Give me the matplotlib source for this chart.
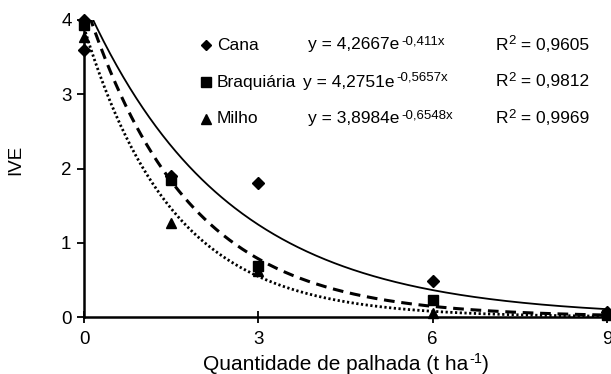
import numpy as np
import matplotlib
matplotlib.use("Agg")
import matplotlib.pyplot as plt

plt.rcParams['font.family'] = ['Liberation Sans', 'DejaVu Sans']

# Observed data
cana_x = [0, 0, 1.5, 3, 6, 9]
cana_y = [4.0, 3.6, 1.9, 1.81, 0.48, 0.07]
braq_x = [0, 1.5, 3, 6, 9]
braq_y = [3.93, 1.85, 0.69, 0.23, 0.03]
milho_x = [0, 1.5, 3, 6, 9]
milho_y = [3.77, 1.27, 0.62, 0.05, 0.04]

# Fitted models y = a*exp(b*x)
labels = ['Cana', 'Braquiária', 'Milho']
coef_a = [4.2667, 4.2751, 3.8984]
coef_b = [-0.411, -0.5657, -0.6548]
eq_base = ['y = 4,2667e', 'y = 4,2751e', 'y = 3,8984e']
eq_exp = ['-0,411x', '-0,5657x', '-0,6548x']
r2_texts = ['0,9605', '0,9812', '0,9969']

W, H = 611, 374
fig = plt.figure(figsize=(W/100, H/100), dpi=100)
ax = fig.add_axes([84/W, 1-317/H, (607-84)/W, (317-20)/H])

xs = np.linspace(0, 9, 400)
styles = [dict(ls='-', lw=1.3), dict(ls=(0, (3.5, 2.2)), lw=2.2), dict(ls=(0, (0.8, 0.9)), lw=2.0)]
for a, b, st in zip(coef_a, coef_b, styles):
    ax.plot(xs, a*np.exp(b*xs), color='black', **st)

ax.plot(cana_x, cana_y, 'D', color='black', ms=6, clip_on=False, zorder=5)
ax.plot(braq_x, braq_y, 's', color='black', ms=7.5, clip_on=False, zorder=5)
ax.plot(milho_x, milho_y, '^', color='black', ms=7, clip_on=False, zorder=5)

ax.set_xlim(0, 9)
ax.set_ylim(0, 4)
ax.set_xticks([0, 3, 6, 9])
ax.set_yticks([0, 1, 2, 3, 4])
for s in ['top', 'right']:
    ax.spines[s].set_visible(False)
for s in ['left', 'bottom']:
    ax.spines[s].set_linewidth(1.8)
ax.tick_params(axis='x', direction='inout', length=8, width=1.3, labelsize=13.5, pad=6)
ax.tick_params(axis='y', direction='out', length=5, width=1.3, labelsize=13.5, pad=4)
ax.set_ylabel('IVE', fontsize=13.5)
ax.yaxis.set_label_coords(-(84-16)/(607-84), (317-160)/(317-20))
ax.yaxis.label.set_va('center')

renderer = fig.canvas.get_renderer()

def px(x, y):
    return x/W, 1 - y/H

# X axis label built from pieces (superscript -1)
xl_y = 364
t1 = fig.text(*px(203, xl_y), 'Quantidade de palhada (t ha', fontsize=15, va='center', ha='left')
bb = t1.get_window_extent(renderer)
t2 = fig.text(bb.x1/W + 1/W, 1 - (xl_y - 5)/H, '-1', fontsize=10.5, va='center', ha='left')
bb = t2.get_window_extent(renderer)
fig.text(bb.x1/W, 1 - xl_y/H, ')', fontsize=15, va='center', ha='left')

# Legend / equations block
markers = ['D', 's', '^']
msz = [5.5, 7.5, 7]
rows_y = [45, 82, 119]
eq_x = [308, 303, 308]
fs = 12.5
fs_sup = 9.5

for i, name in enumerate(labels):
    xf, yf = px(206, rows_y[i])
    fig.lines.append(plt.Line2D([xf], [yf], marker=markers[i], color='black', ms=msz[i],
                                transform=fig.transFigure, ls='none'))
    fig.text(*px(217, rows_y[i]), name, fontsize=fs, va='center', ha='left')
    t = fig.text(*px(eq_x[i], rows_y[i]), eq_base[i], fontsize=fs, va='center', ha='left')
    bb = t.get_window_extent(renderer)
    fig.text(bb.x1/W + 2/W, 1 - (rows_y[i] - 4)/H, eq_exp[i], fontsize=fs_sup, va='center', ha='left')
    r = fig.text(*px(496, rows_y[i]), 'R', fontsize=fs, va='center', ha='left')
    bb = r.get_window_extent(renderer)
    s2 = fig.text(bb.x1/W, 1 - (rows_y[i] - 4)/H, '2', fontsize=fs_sup, va='center', ha='left')
    bb = s2.get_window_extent(renderer)
    fig.text(bb.x1/W, yf, ' = ' + r2_texts[i], fontsize=fs, va='center', ha='left')

fig.savefig('out.png', dpi=100)
